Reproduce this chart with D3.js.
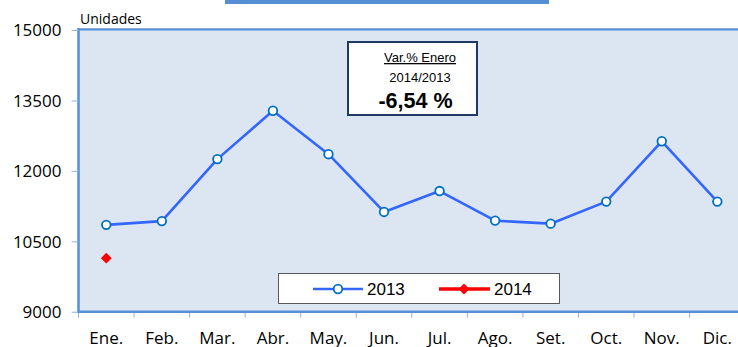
<!DOCTYPE html>
<html>
<head>
<meta charset="utf-8">
<script src="https://cdn.jsdelivr.net/npm/d3@7"></script>
<style>
  html, body { margin: 0; padding: 0; background: #fff; }
  svg { display: block; }
</style>
</head>
<body>
<svg id="chart" width="738" height="347"></svg>
<script>
// Monthly units, 2013 full year vs. January 2014
const months = ["Ene.", "Feb.", "Mar.", "Abr.", "May.", "Jun.", "Jul.", "Ago.", "Set.", "Oct.", "Nov.", "Dic."];
const units2013 = [10850, 10930, 12250, 13280, 12355, 11125, 11570, 10940, 10875, 11345, 12630, 11345];
const units2014 = [10140];
const yTicks = [9000, 10500, 12000, 13500, 15000];

(function () {
const svg = d3.select("#chart");
const W = 738;
const plotL = 78.5, plotT = 30, plotB = 311.7;
const plotR = plotL + 12 * 55.55;

const x = d3.scaleBand().domain(months).range([plotL, plotR]).paddingInner(0).paddingOuter(0);
const y = d3.scaleLinear().domain([9000, 15000]).range([plotB, plotT]);

const labelFont = "'Open Sans', Lato, sans-serif";
const boxFont = "'Liberation Sans', Arial, sans-serif";

// decorative header strip
svg.append("rect").attr("x", 225).attr("y", 0).attr("width", 324).attr("height", 4).attr("fill", "#558ed5");

// plot background
svg.append("rect")
  .attr("x", plotL).attr("y", plotT)
  .attr("width", W - plotL).attr("height", plotB - plotT)
  .attr("fill", "#dce6f2");

// plot frame: top and left edges
svg.append("line").attr("x1", plotL).attr("x2", W).attr("y1", plotT - 1.5).attr("y2", plotT - 1.5)
  .attr("stroke", "#b9cde5").attr("stroke-width", 1);
svg.append("line").attr("x1", plotL).attr("x2", W).attr("y1", plotT - 0.5).attr("y2", plotT - 0.5)
  .attr("stroke", "#558ed5").attr("stroke-width", 2);
svg.append("line").attr("x1", plotL).attr("x2", plotL).attr("y1", plotT - 2).attr("y2", plotB)
  .attr("stroke", "#558ed5").attr("stroke-width", 2.5);

// y axis
const yAxis = svg.append("g")
  .attr("transform", `translate(${plotL},0)`)
  .call(d3.axisLeft(y).tickValues(yTicks).tickSize(7).tickPadding(10).tickFormat(d3.format("d")));
yAxis.select(".domain").remove();
yAxis.selectAll(".tick line").attr("stroke", "#8eb4e3").attr("stroke-width", 1);
yAxis.selectAll(".tick text")
  .attr("font-family", labelFont).attr("font-size", 17).attr("fill", "#000")
  .attr("dy", "0.34em");

// x axis: labels centred in each month, tick marks on the month boundaries
const xAxis = svg.append("g")
  .attr("transform", `translate(0,${plotB})`)
  .call(d3.axisBottom(x).tickSize(0).tickPadding(0));
xAxis.select(".domain").remove();
xAxis.selectAll(".tick text")
  .attr("font-family", labelFont).attr("font-size", 17).attr("fill", "#000")
  .attr("y", 32.5).attr("dy", null);

svg.append("g").selectAll("line")
  .data(months.concat(["end"]))
  .join("line")
  .attr("x1", (d, i) => plotL + i * x.bandwidth())
  .attr("x2", (d, i) => plotL + i * x.bandwidth())
  .attr("y1", plotB).attr("y2", plotB + 6)
  .attr("stroke", "#8eb4e3").attr("stroke-width", 1);

svg.append("line").attr("x1", plotL - 1).attr("x2", W).attr("y1", plotB).attr("y2", plotB)
  .attr("stroke", "#558ed5").attr("stroke-width", 2.5);

// units caption
svg.append("text").attr("x", 80).attr("y", 24)
  .attr("font-family", labelFont).attr("font-size", 14).attr("fill", "#000")
  .text("Unidades");

// 2013 series
const cx = (d, i) => x(months[i]) + x.bandwidth() / 2;
const line = d3.line().x(cx).y(d => y(d));
svg.append("path").datum(units2013)
  .attr("d", line).attr("fill", "none")
  .attr("stroke", "#3366ff").attr("stroke-width", 2.6).attr("stroke-linejoin", "round");
svg.append("g").selectAll("circle")
  .data(units2013).join("circle")
  .attr("cx", cx).attr("cy", d => y(d)).attr("r", 4.3)
  .attr("fill", "#fff").attr("stroke", "#0070c0").attr("stroke-width", 1.8);

// 2014 series
const diamond = d3.symbol().type(d3.symbolDiamond2).size(75);
svg.append("g").selectAll("path")
  .data(units2014).join("path")
  .attr("d", diamond)
  .attr("transform", (d, i) => `translate(${cx(d, i)},${y(d)})`)
  .attr("fill", "#ff0000");

// January variation box
const varPct = (units2014[0] / units2013[0] - 1) * 100;
const pctText = (varPct < 0 ? "-" : "") + Math.abs(varPct).toFixed(2).replace(".", ",") + " %";
const box = svg.append("g");
box.append("rect").attr("x", 348).attr("y", 42).attr("width", 129).attr("height", 73)
  .attr("fill", "#fff").attr("stroke", "#1f3864").attr("stroke-width", 2);
box.append("text").attr("x", 420).attr("y", 62).attr("text-anchor", "middle")
  .attr("font-family", boxFont).attr("font-size", 13).attr("text-decoration", "underline")
  .text("Var.% Enero");
box.append("text").attr("x", 420).attr("y", 82).attr("text-anchor", "middle")
  .attr("font-family", boxFont).attr("font-size", 13)
  .text("2014/2013");
box.append("text").attr("x", 415.5).attr("y", 107.5).attr("text-anchor", "middle")
  .attr("font-family", boxFont).attr("font-size", 21.5).attr("font-weight", "bold")
  .text(pctText);

// legend
const lg = svg.append("g");
lg.append("rect").attr("x", 278.5).attr("y", 273.5).attr("width", 281).attr("height", 30)
  .attr("fill", "#fff").attr("stroke", "#595959").attr("stroke-width", 1);
lg.append("line").attr("x1", 313).attr("x2", 363).attr("y1", 289).attr("y2", 289)
  .attr("stroke", "#3366ff").attr("stroke-width", 2.6);
lg.append("circle").attr("cx", 338).attr("cy", 289).attr("r", 4.3)
  .attr("fill", "#fff").attr("stroke", "#0070c0").attr("stroke-width", 1.8);
lg.append("text").attr("x", 367).attr("y", 295)
  .attr("font-family", boxFont).attr("font-size", 17).text("2013");
lg.append("line").attr("x1", 439).attr("x2", 490).attr("y1", 289).attr("y2", 289)
  .attr("stroke", "#ff0000").attr("stroke-width", 3.5);
lg.append("path").attr("d", diamond).attr("transform", "translate(464,289)").attr("fill", "#ff0000");
lg.append("text").attr("x", 494).attr("y", 295)
  .attr("font-family", boxFont).attr("font-size", 17).text("2014");
})();
</script>
</body>
</html>
